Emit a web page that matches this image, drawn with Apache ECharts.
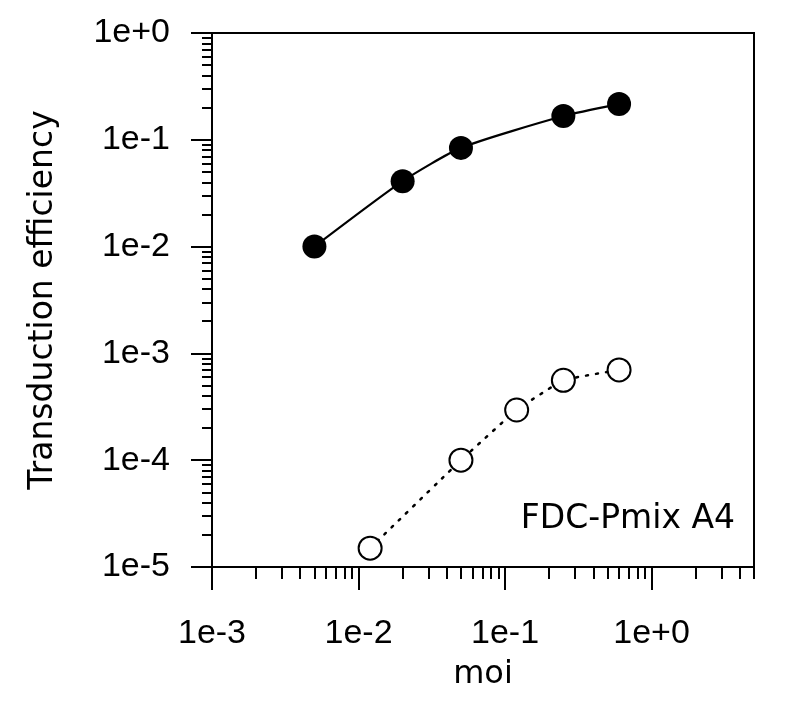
<!DOCTYPE html>
<html>
<head>
<meta charset="utf-8">
<script src="https://cdn.jsdelivr.net/npm/echarts@6/dist/echarts.min.js"></script>
<style>html,body{margin:0;padding:0;background:#fff}#c{width:800px;height:712px}</style>
</head>
<body>
<div id="c"></div>
<script>
// Data
const moiFilled = [0.005, 0.02, 0.05, 0.25, 0.6];
const effFilled = [0.0100, 0.041, 0.084, 0.167, 0.216];
const moiOpen = [0.012, 0.05, 0.12, 0.25, 0.6];
const effOpen = [1.5e-5, 1.0e-4, 2.95e-4, 5.6e-4, 7.0e-4];
const xMajorTicks = [0.001, 0.01, 0.1, 1];
const yMajorTicks = [1e-5, 1e-4, 1e-3, 1e-2, 1e-1, 1];
const xMinorTicks = [0.002,0.003,0.004,0.005,0.006,0.007,0.008,0.009,
                     0.02,0.03,0.04,0.05,0.06,0.07,0.08,0.09,
                     0.2,0.3,0.4,0.5,0.6,0.7,0.8,0.9,
                     2,3,4,5];
const yMinorTicks = [2e-5,3e-5,4e-5,5e-5,6e-5,7e-5,8e-5,9e-5,
                     2e-4,3e-4,4e-4,5e-4,6e-4,7e-4,8e-4,9e-4,
                     2e-3,3e-3,4e-3,5e-3,6e-3,7e-3,8e-3,9e-3,
                     2e-2,3e-2,4e-2,5e-2,6e-2,7e-2,8e-2,9e-2,
                     0.2,0.3,0.4,0.5,0.6,0.7,0.8,0.9];
const annotation = 'FDC-Pmix A4';

const FONT = 'Liberation Sans, Arial, Helvetica, sans-serif';
const WIDE = 'DejaVu Sans, Liberation Sans, sans-serif';
function fmt(v) {
  const e = Math.round(Math.log10(v));
  return '1e' + (e >= 0 ? '+' : '-') + Math.abs(e);
}
const pair = (xs, ys) => xs.map((x, i) => [x, ys[i]]);

const chart = echarts.init(document.getElementById('c'), null, {renderer: 'canvas'});
const baseX = {type: 'log', logBase: 10, min: 0.001, max: 5, position: 'bottom', splitLine: {show: false}};
const baseY = {type: 'log', logBase: 10, min: 1e-5, max: 1, position: 'left', splitLine: {show: false}};
chart.setOption({
  animation: false,
  backgroundColor: '#fff',
  grid: {left: 212, right: 46, top: 33, bottom: 145, show: true, borderColor: '#000', borderWidth: 2, containLabel: false},
  xAxis: [
    Object.assign({}, baseX, {
      name: 'moi', nameLocation: 'middle', nameGap: 92,
      nameTextStyle: {fontFamily: WIDE, fontSize: 32, color: '#000'},
      axisLine: {show: true, lineStyle: {color: '#000', width: 2}},
      axisTick: {show: true, inside: false, length: 23, lineStyle: {color: '#000', width: 2}, customValues: xMajorTicks},
      axisLabel: {show: true, margin: 50, fontFamily: FONT, fontSize: 34, color: '#000', formatter: fmt, customValues: xMajorTicks},
      minorTick: {show: false}
    }),
    Object.assign({}, baseX, {
      axisLine: {show: false},
      axisTick: {show: true, inside: false, length: 12, lineStyle: {color: '#000', width: 2}, customValues: xMinorTicks},
      axisLabel: {show: false}
    })
  ],
  yAxis: [
    Object.assign({}, baseY, {
      name: 'Transduction efficiency', nameLocation: 'middle', nameGap: 152,
      nameTextStyle: {fontFamily: WIDE, fontSize: 33, color: '#000'},
      axisLine: {show: true, lineStyle: {color: '#000', width: 2}},
      axisTick: {show: true, inside: false, length: 21, lineStyle: {color: '#000', width: 2}, customValues: yMajorTicks},
      axisLabel: {show: true, margin: 42, fontFamily: FONT, fontSize: 34, color: '#000', formatter: fmt, customValues: yMajorTicks},
      minorTick: {show: false}
    }),
    Object.assign({}, baseY, {
      axisLine: {show: false},
      axisTick: {show: true, inside: false, length: 10, lineStyle: {color: '#000', width: 2}, customValues: yMinorTicks},
      axisLabel: {show: false}
    })
  ],
  graphic: [{
    type: 'text', right: 65, top: 503,
    style: {text: annotation, font: '33px ' + WIDE, fill: '#000'}
  }],
  series: [
    {
      type: 'line', xAxisIndex: 0, yAxisIndex: 0,
      data: pair(moiFilled, effFilled),
      smooth: 0.2,
      symbol: 'circle', symbolSize: 24,
      itemStyle: {color: '#000', borderColor: '#000', borderWidth: 0},
      lineStyle: {color: '#000', width: 2.2, type: 'solid'},
      z: 3
    },
    {
      type: 'line', xAxisIndex: 0, yAxisIndex: 0,
      data: pair(moiOpen, effOpen),
      smooth: 0.1,
      symbol: 'circle', symbolSize: 23,
      itemStyle: {color: '#fff', borderColor: '#000', borderWidth: 2},
      lineStyle: {color: '#000', width: 2.5, type: [2, 8], cap: 'round'},
      z: 3
    }
  ]
});
</script>
</body>
</html>
